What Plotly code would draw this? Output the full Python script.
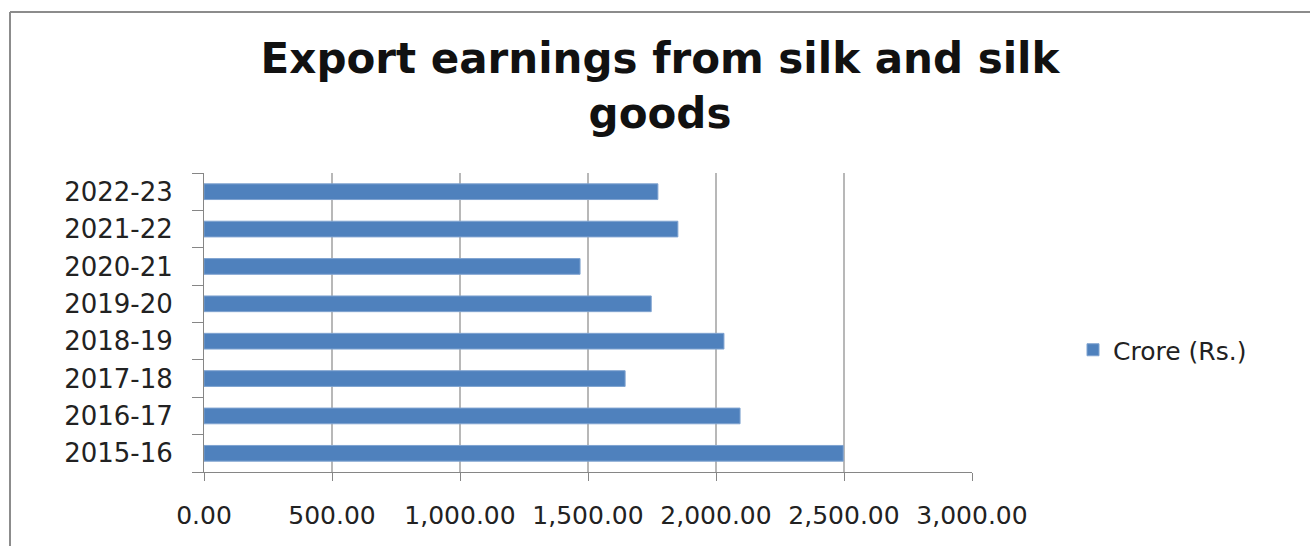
import plotly.graph_objects as go

years = ["2015-16", "2016-17", "2017-18", "2018-19", "2019-20", "2020-21", "2021-22", "2022-23"]
crore = [2497, 2094, 1645, 2031, 1747, 1469, 1851, 1773]
xticks = [0, 500, 1000, 1500, 2000, 2500, 3000]
xticklabels = ["0.00", "500.00", "1,000.00", "1,500.00", "2,000.00", "2,500.00", "3,000.00"]

W, H = 1310, 546
L, R, T, B = 204, 338, 173, 74
pw, ph = W - L - R, H - T - B

def px(x):
    return (x - L) / pw

def py(y):
    return (H - B - y) / ph

fig = go.Figure()
fig.add_trace(go.Bar(
    y=years, x=crore, orientation="h", name="Crore (Rs.)",
    marker=dict(color="#4F81BD", line=dict(color="#7FA3D0", width=1)),
    width=0.42,
))

fig.update_layout(
    width=W, height=H,
    margin=dict(l=L, r=R, t=T, b=B, autoexpand=False),
    paper_bgcolor="white", plot_bgcolor="white",
    font=dict(family="DejaVu Sans", color="#222222"),
    title=dict(
        text="<b>Export earnings from silk and silk<br>goods</b>",
        font=dict(family="DejaVu Sans", size=42, color="#111111"),
        x=660 / W, xref="container", xanchor="center",
        y=1 - 73 / H, yref="container", yanchor="top",
    ),
    showlegend=True,
    legend=dict(
        x=px(1073), y=py(350), xanchor="left", yanchor="middle",
        font=dict(family="DejaVu Sans", size=25, color="#222222"),
        bgcolor="rgba(0,0,0,0)",
    ),
    xaxis=dict(
        range=[0, 3000], tickvals=xticks, ticktext=xticklabels,
        showgrid=True, gridcolor="#B8B8B8", gridwidth=2,
        showline=True, linecolor="#868686", linewidth=1,
        ticks="outside", ticklen=8, tickcolor="#868686",
        tickangle=0, ticklabelstandoff=13,
        tickfont=dict(family="DejaVu Sans", size=25, color="#222222"),
        zeroline=False, fixedrange=True,
    ),
    yaxis=dict(
        type="category", categoryorder="array", categoryarray=years,
        showgrid=False, showline=True, linecolor="#868686", linewidth=1,
        ticks="outside", ticklen=11, tickcolor="#868686", tickson="boundaries",
        ticklabelstandoff=25,
        tickfont=dict(family="DejaVu Sans", size=26, color="#222222"),
        fixedrange=True,
    ),
    shapes=[
        dict(type="line", xref="paper", yref="paper",
             x0=px(10), x1=px(1310), y0=py(12), y1=py(12),
             line=dict(color="#8C8C8C", width=2)),
        dict(type="line", xref="paper", yref="paper",
             x0=px(10), x1=px(10), y0=py(12), y1=py(546),
             line=dict(color="#8C8C8C", width=2)),
    ],
)

fig.write_html("out.html")
